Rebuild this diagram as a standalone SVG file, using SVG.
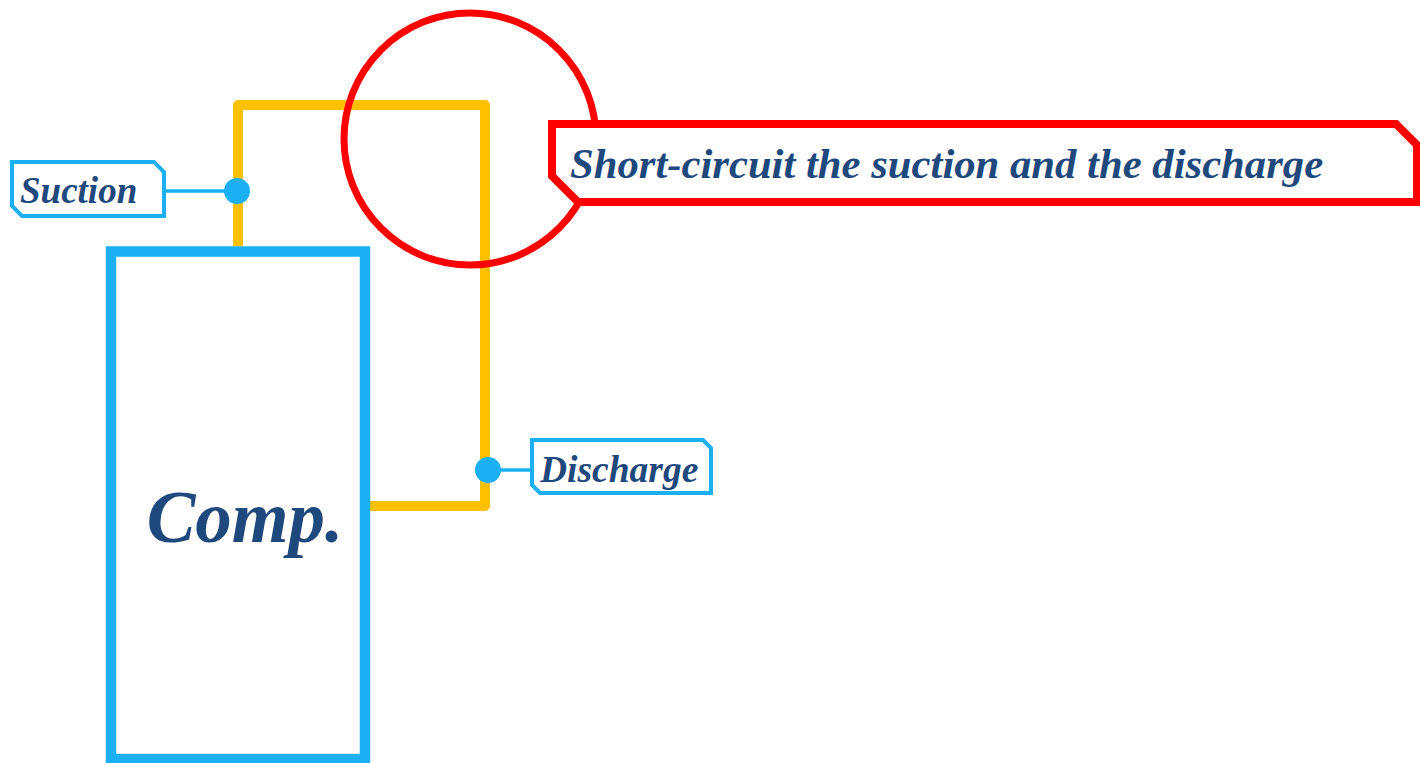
<svg xmlns="http://www.w3.org/2000/svg" width="1420" height="763" viewBox="0 0 1420 763">
<style>
.lbl{font-family:"Liberation Serif","Times New Roman",serif;font-weight:bold;font-style:italic;fill:#1F497D}
.blue{fill:none;stroke:#1BB0F2}
.red{fill:#fff;stroke:#FF0000;stroke-width:8}
</style>
<rect width="1420" height="763" fill="#fff"/>
<g id="connectors">
<path d="M238 246 V105 H485 V506 H370" fill="none" stroke="#FFC000" stroke-width="10" stroke-linejoin="round"/>
<line x1="164" y1="191" x2="237" y2="191" stroke="#1BB0F2" stroke-width="3.5"/>
<line x1="488" y1="470" x2="532" y2="470" stroke="#1BB0F2" stroke-width="3.5"/>
<circle cx="237" cy="191" r="13" fill="#1BB0F2"/>
<circle cx="488" cy="470" r="13" fill="#1BB0F2"/>
</g>
<g id="comp">
<rect class="blue" x="111" y="251.5" width="254" height="507.5" stroke-width="10.5"/>
<text class="lbl" x="245" y="542" font-size="73" text-anchor="middle">Comp.</text>
</g>
<g id="suction">
<path class="blue" d="M12 162 H154 L164 172 V216 H22 L12 206 Z" fill="#fff" stroke-width="4"/>
<text class="lbl" x="20" y="203" font-size="37">Suction</text>
</g>
<g id="discharge">
<path class="blue" d="M532 440 H703 L711 448 V493 H540 L532 485 Z" fill="#fff" stroke-width="4"/>
<text class="lbl" x="540" y="482" font-size="37.5">Discharge</text>
</g>
<g id="callout">
<circle cx="470" cy="139" r="126" fill="none" stroke="#FF0000" stroke-width="7"/>
<path class="red" d="M552 124 H1396 L1417 145 V202 H578 L552 176 Z"/>
<text class="lbl" x="570" y="178" font-size="42.7">Short-circuit the suction and the discharge</text>
</g>
</svg>
